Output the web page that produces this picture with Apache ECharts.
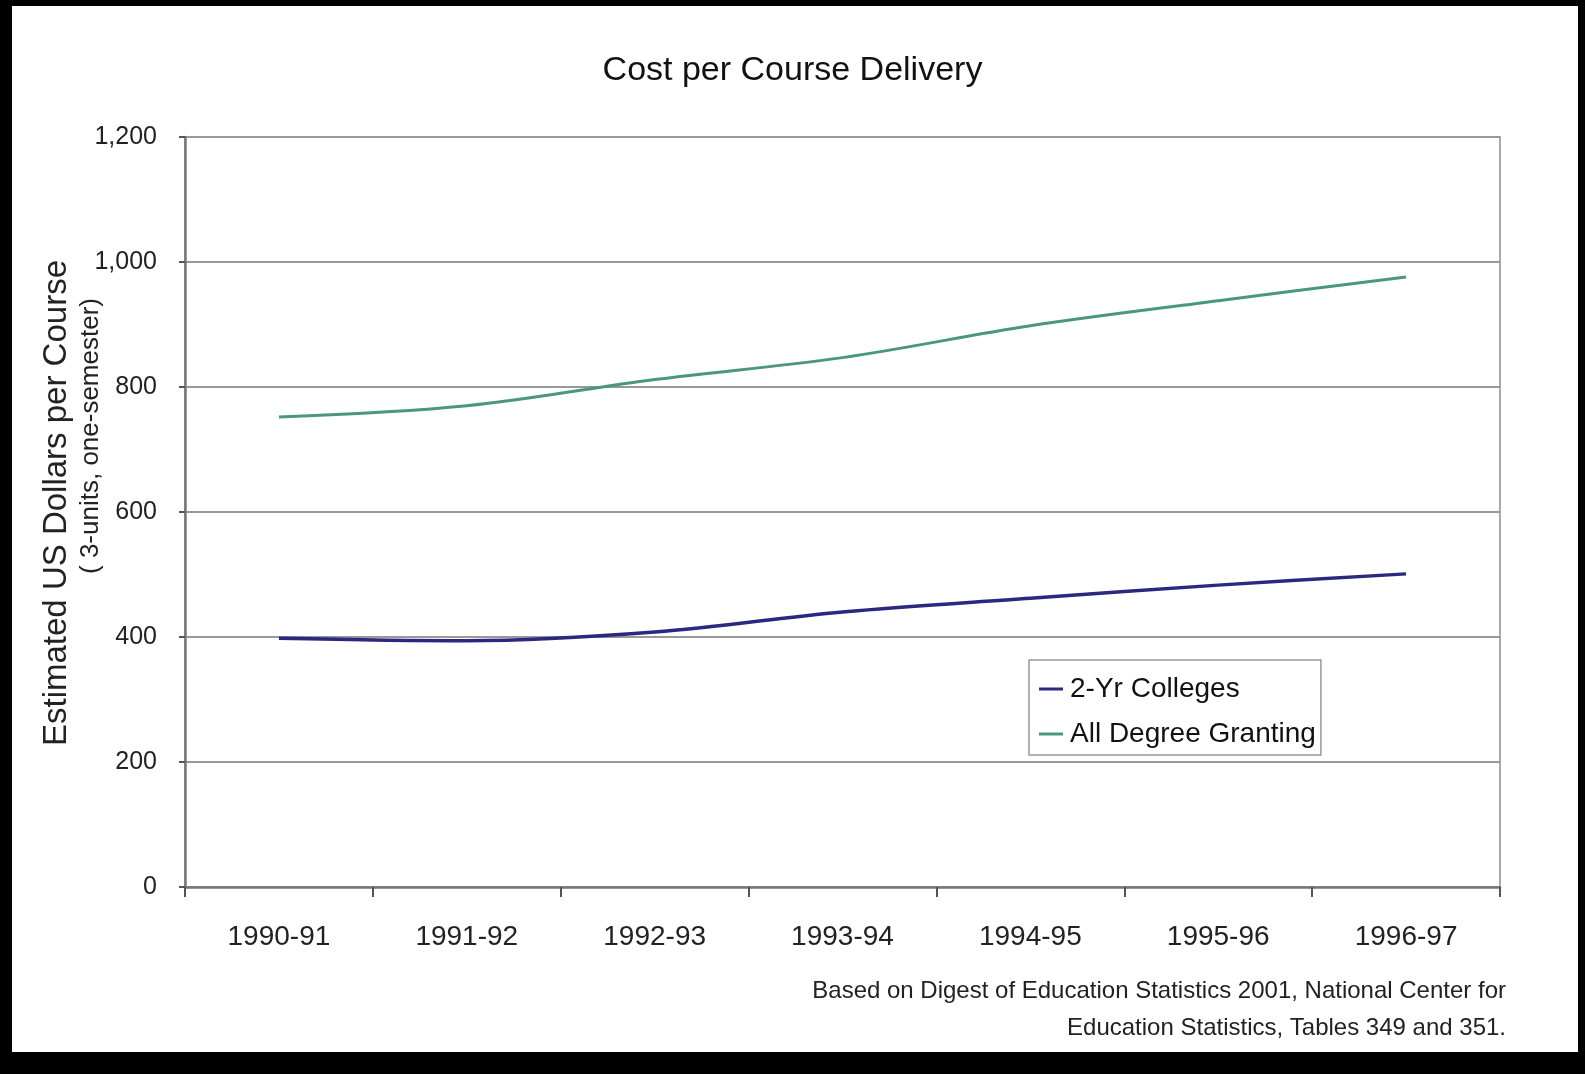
<!DOCTYPE html>
<html>
<head>
<meta charset="utf-8">
<script src="https://cdn.jsdelivr.net/npm/echarts@6/dist/echarts.min.js"></script>
<style>
html,body{margin:0;padding:0;background:#fff;}
#chart{position:absolute;left:0;top:0;width:1585px;height:1074px;}
.bk{position:absolute;background:#000;pointer-events:none;}
</style>
</head>
<body>
<div id="chart"></div>
<div class="bk" style="left:0;top:0;width:1585px;height:6px;"></div>
<div class="bk" style="left:0;top:0;width:12px;height:1074px;"></div>
<div class="bk" style="left:1578px;top:0;width:7px;height:1074px;"></div>
<div class="bk" style="left:0;top:1052px;width:1585px;height:22px;"></div>
<script>
const categories = ['1990-91','1991-92','1992-93','1993-94','1994-95','1995-96','1996-97'];
const twoYrColleges = [398, 394, 408, 440, 462, 483, 501];
const allDegreeGranting = [752, 770, 812, 847, 898, 938, 976];
const seriesNames = ['2-Yr Colleges', 'All Degree Granting'];
const titleText = 'Cost per Course Delivery';
const yAxisTitle = 'Estimated US Dollars per Course';
const yAxisSubtitle = '( 3-units, one-semester)';
const footnoteLines = ['Based on Digest of Education Statistics 2001, National Center for', 'Education Statistics, Tables 349 and 351.'];

const FONT = "'Liberation Sans', Arial, sans-serif";
const chart = echarts.init(document.getElementById('chart'));
chart.setOption({
  backgroundColor: '#fff',
  animation: false,
  title: {
    text: titleText, left: 'center', top: 54, padding: 0,
    textStyle: {fontFamily: FONT, fontSize: 34, fontWeight: 'normal', color: '#111'}
  },
  grid: {left: 185, top: 137, right: 85, bottom: 187, show: true, borderColor: '#aaa', borderWidth: 2, backgroundColor: 'transparent'},
  legend: {
    orient: 'vertical', left: 1029, top: 660,
    padding: [15, 5, 7, 10], itemGap: 17, itemWidth: 24, itemHeight: 3,
    borderColor: '#999', borderWidth: 1.5, backgroundColor: '#fff',
    icon: 'rect',
    textStyle: {fontFamily: FONT, fontSize: 28, color: '#111', padding: [0,0,0,2]},
    data: seriesNames
  },
  xAxis: {
    type: 'category', data: categories, boundaryGap: true,
    axisLine: {lineStyle: {color: '#777', width: 2.5}},
    axisTick: {show: true, length: 10, lineStyle: {color: '#555', width: 2}},
    axisLabel: {fontFamily: FONT, fontSize: 28, color: '#222', margin: 36}
  },
  yAxis: {
    type: 'value', min: 0, max: 1200, interval: 200,
    axisLine: {show: true, lineStyle: {color: '#777', width: 2.5}},
    axisTick: {show: true, length: 6, lineStyle: {color: '#555', width: 2}},
    axisLabel: {fontFamily: FONT, fontSize: 25, color: '#222', margin: 28,
      formatter: v => v.toLocaleString('en-US')},
    splitLine: {lineStyle: {color: '#999', width: 2}}
  },
  series: [
    {name: seriesNames[0], type: 'line', data: twoYrColleges, smooth: 0.35, symbol: 'none',
     lineStyle: {color: '#2a2880', width: 3.5}, itemStyle: {color: '#2a2880'}},
    {name: seriesNames[1], type: 'line', data: allDegreeGranting, smooth: 0.35, symbol: 'none',
     lineStyle: {color: '#4a9680', width: 3}, itemStyle: {color: '#4a9680'}}
  ],
  graphic: [
    {type: 'text', x: 57, y: 503, rotation: Math.PI/2,
     style: {text: yAxisTitle, fontFamily: FONT, fontSize: 33, fill: '#222', textAlign: 'center', textVerticalAlign: 'middle'}},
    {type: 'text', x: 91, y: 436, rotation: Math.PI/2,
     style: {text: yAxisSubtitle, fontFamily: FONT, fontSize: 26, fill: '#222', textAlign: 'center', textVerticalAlign: 'middle'}},
    {type: 'text', x: 1506, y: 991,
     style: {text: footnoteLines[0], fontFamily: FONT, fontSize: 24, fill: '#222', textAlign: 'right', textVerticalAlign: 'middle'}},
    {type: 'text', x: 1506, y: 1028,
     style: {text: footnoteLines[1], fontFamily: FONT, fontSize: 24, fill: '#222', textAlign: 'right', textVerticalAlign: 'middle'}}
  ]
});
</script>
</body>
</html>
